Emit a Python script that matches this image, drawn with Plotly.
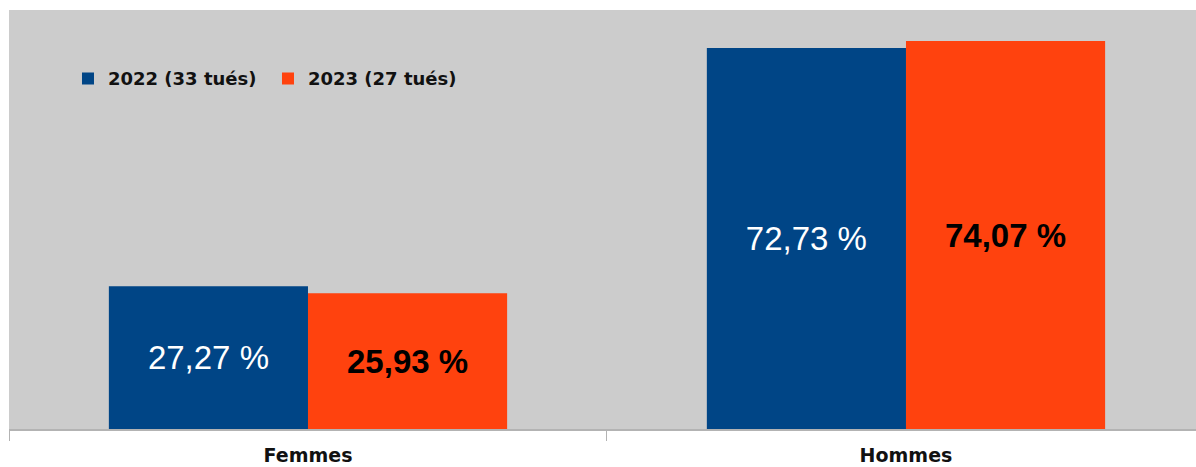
import plotly.graph_objects as go

categories = ["Femmes", "Hommes"]
series_names = ["2022 (33 tués)", "2023 (27 tués)"]
values_2022 = [27.27, 72.73]
values_2023 = [25.93, 74.07]
colors = ["#004586", "#ff420e"]
text_colors = ["#ffffff", "#000000"]
text_weights = ["normal", "bold"]

def fmt(v):
    return f"{v:.2f}".replace(".", ",") + " %"

fig = go.Figure()
for name, vals, col, tcol, tw in zip(series_names, [values_2022, values_2023], colors, text_colors, text_weights):
    fig.add_trace(go.Bar(
        x=categories, y=vals, name=name,
        marker=dict(color=col, line=dict(width=0)),
        text=[fmt(v) for v in vals],
        textposition="inside", insidetextanchor="middle", textangle=0,
        textfont=dict(family="Liberation Sans, Arial, sans-serif", size=33, color=tcol, weight=tw),
        hoverinfo="skip",
    ))

fig.update_layout(
    width=1196, height=467,
    margin=dict(l=9, r=0, t=10, b=38),
    paper_bgcolor="white", plot_bgcolor="#cccccc",
    barmode="group", bargap=0.334, bargroupgap=0,
    font=dict(family="DejaVu Sans, sans-serif", color="#000000"),
    showlegend=True,
    legend=dict(
        orientation="h", x=0.0497, y=0.836, xanchor="left", yanchor="middle",
        bgcolor="rgba(0,0,0,0)",
        font=dict(family="DejaVu Sans, sans-serif", size=18, weight="bold", color="#111111"),
        itemwidth=30, entrywidth=155, traceorder="normal",
    ),
    xaxis=dict(
        range=[-0.5, 1.485], automargin=False,
        showgrid=False, showline=True, linecolor="#b3b3b3", linewidth=2,
        ticks="outside", tickson="boundaries", ticklen=10, tickcolor="#b3b3b3", tickwidth=1,
        tickfont=dict(family="DejaVu Sans, sans-serif", size=19, weight="bold", color="#111111"),
        ticklabelstandoff=8,
        zeroline=False,
    ),
    yaxis=dict(range=[0, 80], visible=False, showgrid=False, zeroline=False, automargin=False),
)

fig.write_html("out.html", config={"displayModeBar": False},
               post_script="document.body.style.margin='0';document.body.style.padding='0';")
